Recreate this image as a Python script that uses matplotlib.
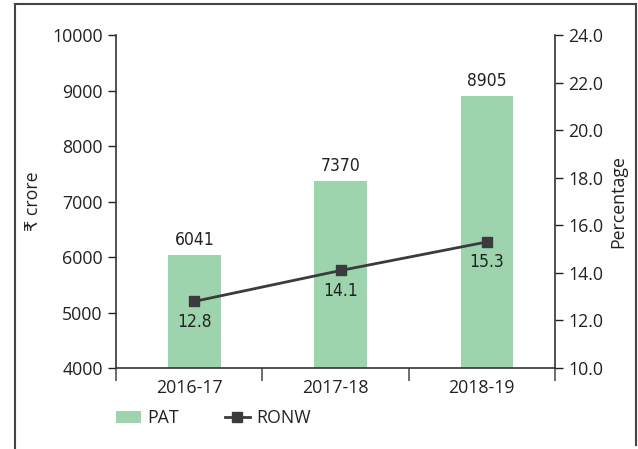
import numpy as np
import matplotlib.pyplot as plt
from matplotlib.lines import Line2D

years = ['2016-17', '2017-18', '2018-19']
pat = [6041, 7370, 8905]
ronw = [12.8, 14.1, 15.3]

plt.rcParams['font.family'] = ['Open Sans', 'DejaVu Sans']
txt = '#222222'

fig = plt.figure(figsize=(6.38, 4.49), dpi=100)
ax = fig.add_axes([0.1818, 0.1804, 0.8699 - 0.1818, 0.922 - 0.1804])
ax2 = ax.twinx()

x = np.arange(len(years))
xm = x + 0.035  # marks sit a little right of the category centre in the original
bars = ax.bar(xm, pat, width=0.36, color='#9dd4ae', label='PAT', zorder=2)
for xi, v in zip(xm, pat):
    ax.text(xi, v + 110, str(v), ha='center', va='bottom', fontsize=12.5,
            family='DejaVu Sans', fontstretch='condensed', color=txt)

ax.set_ylim(4000, 10000)
ax.set_yticks(range(4000, 10001, 1000))
ax.set_xlim(-0.5, 2.5)
ax.set_xticks(x)
ax.set_xticklabels(years)
ax.set_xticks([-0.5, 0.5, 1.5, 2.5], minor=True)
ax.tick_params(axis='x', which='major', length=0, labelsize=12.8, colors=txt, pad=8)
ax.tick_params(axis='x', which='minor', length=9, width=1.2, color='#555555')
ax.tick_params(axis='y', labelsize=12.8, colors=txt, length=6, width=1)
ax.set_ylabel('₹ crore', fontsize=12.8, color=txt, labelpad=7)

line, = ax2.plot(xm, ronw, color='#3b3b3d', lw=2, marker='s', ms=7, label='RONW', zorder=3)
for xi, v in zip(xm, ronw):
    ax2.annotate(f'{v}', (xi, v), xytext=(0, -8), textcoords='offset points',
                 ha='center', va='top', fontsize=12.5, family='DejaVu Sans',
                 fontstretch='condensed', color=txt)
ax2.set_ylim(10, 24)
ax2.set_yticks(np.arange(10, 24.1, 2))
ax2.set_yticklabels([f'{t:.1f}' for t in np.arange(10, 24.1, 2)])
ax2.tick_params(axis='y', labelsize=12.8, colors=txt, length=6, width=1)
ax2.set_ylabel('Percentage', fontsize=12.8, color=txt, labelpad=4)

for a in (ax, ax2):
    a.spines['top'].set_visible(False)
    for s in ('left', 'right', 'bottom'):
        a.spines[s].set_color('#333333')
        a.spines[s].set_linewidth(1.2)
ax.spines['right'].set_visible(False)
ax2.spines['left'].set_visible(False)
ax2.spines['bottom'].set_visible(False)

fig.legend(handles=[bars, line], labels=['PAT', 'RONW'], loc='center left',
           bbox_to_anchor=(0.168, 0.068), ncol=2, frameon=False, fontsize=12.8,
           handlelength=1.4, handleheight=0.7, columnspacing=2.6, handletextpad=0.35,
           borderpad=0, labelcolor=txt)

# outer frame
fc = '#444444'
fig.add_artist(Line2D([15 / 638, 15 / 638], [0, 1 - 4 / 449], color=fc, lw=1.5))
fig.add_artist(Line2D([15 / 638, 636 / 638], [1 - 4 / 449, 1 - 4 / 449], color=fc, lw=1.5))
fig.add_artist(Line2D([636 / 638, 636 / 638], [1 - 4 / 449, 1 - 445 / 449], color=fc, lw=1.5))

fig.savefig('out.png', dpi=100)
